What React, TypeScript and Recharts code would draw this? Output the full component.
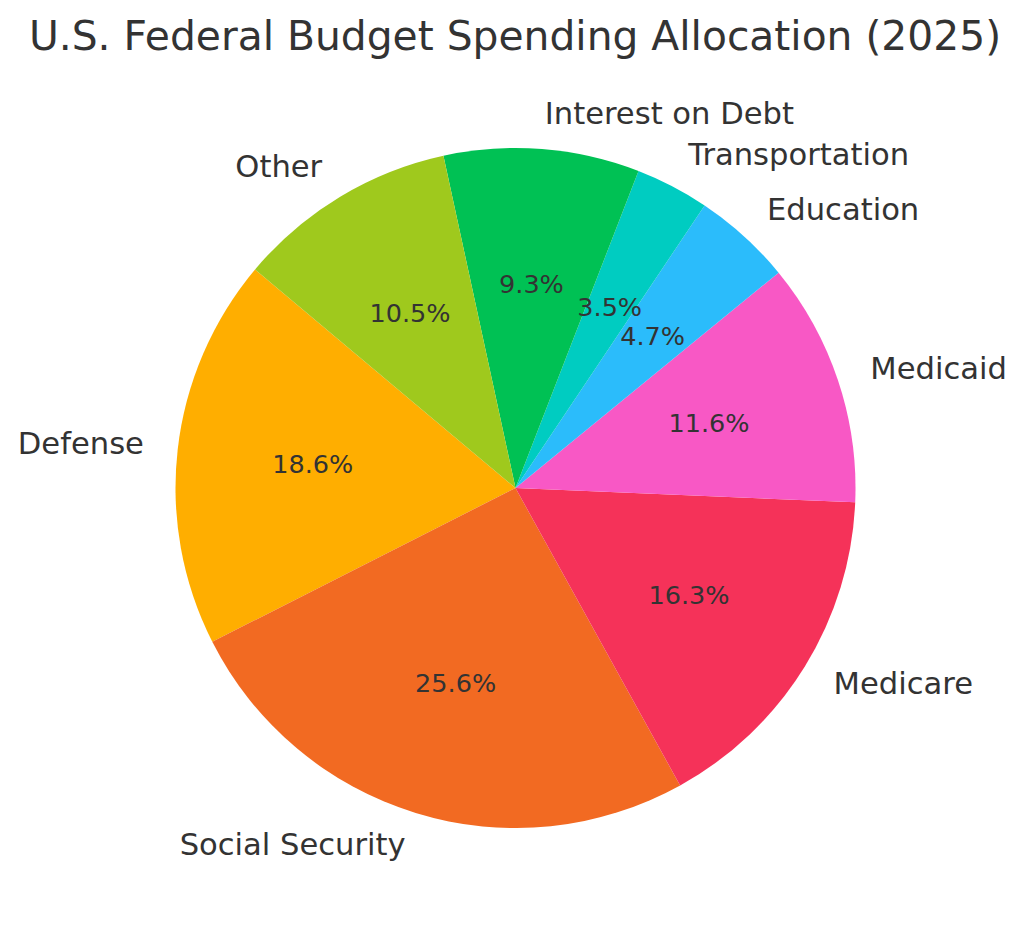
import { PieChart, Pie, Cell } from 'recharts';

const categories = ['Defense', 'Social Security', 'Medicare', 'Medicaid', 'Education', 'Transportation', 'Interest on Debt', 'Other'];
const shares = [18.6, 25.6, 16.3, 11.6, 4.7, 3.5, 9.3, 10.5];
const colors = ['#FFAE00', '#F26A22', '#F53259', '#F858C5', '#2BBCFB', '#00CCC1', '#00C154', '#9FC91D'];

const data = categories.map((name, i) => ({ name, value: shares[i] }));

const RADIAN = Math.PI / 180;
const FONT = '"DejaVu Sans", sans-serif';

function renderLabel(props: any) {
  const { cx, cy, midAngle, outerRadius, index, value } = props;
  const cos = Math.cos(-midAngle * RADIAN);
  const sin = Math.sin(-midAngle * RADIAN);
  const ox = cx + outerRadius * 1.1 * cos;
  const oy = cy + outerRadius * 1.1 * sin;
  const ix = cx + outerRadius * 0.6 * cos;
  const iy = cy + outerRadius * 0.6 * sin;
  return (
    <g>
      <text x={ox} y={oy - 1.5} fill="#333333" fontSize={30.6} fontFamily={FONT}
        textAnchor={cos >= 0 ? 'start' : 'end'} dominantBaseline="central">
        {categories[index]}
      </text>
      <text x={ix} y={iy - 0.5} fill="#333333" fontSize={25.5} fontFamily={FONT}
        textAnchor="middle" dominantBaseline="central">
        {value.toFixed(1)}%
      </text>
    </g>
  );
}

function BudgetPie() {
  return (
    <div style={{ position: 'absolute', left: 0, top: 0, width: 1024, height: 931, background: '#fff' }}>
      <div style={{
        position: 'absolute', left: 0, top: 11, width: 1030, textAlign: 'center',
        fontFamily: FONT, fontSize: 40.8, color: '#333333', lineHeight: '50px',
      }}>
        U.S. Federal Budget Spending Allocation (2025)
      </div>
      <div style={{ position: 'absolute', left: 0, top: 0 }}>
        <PieChart width={1024} height={931} margin={{ top: 0, right: 0, bottom: 0, left: 0 }}>
          <Pie
            data={data}
            dataKey="value"
            nameKey="name"
            cx={515.5}
            cy={488}
            outerRadius={340}
            startAngle={140}
            endAngle={500}
            stroke="none"
            label={renderLabel}
            labelLine={false}
            isAnimationActive={false}
          >
            {data.map((d, i) => (
              <Cell key={d.name} fill={colors[i]} />
            ))}
          </Pie>
        </PieChart>
      </div>
    </div>
  );
}

export default function App() {
  return <BudgetPie />;
}
